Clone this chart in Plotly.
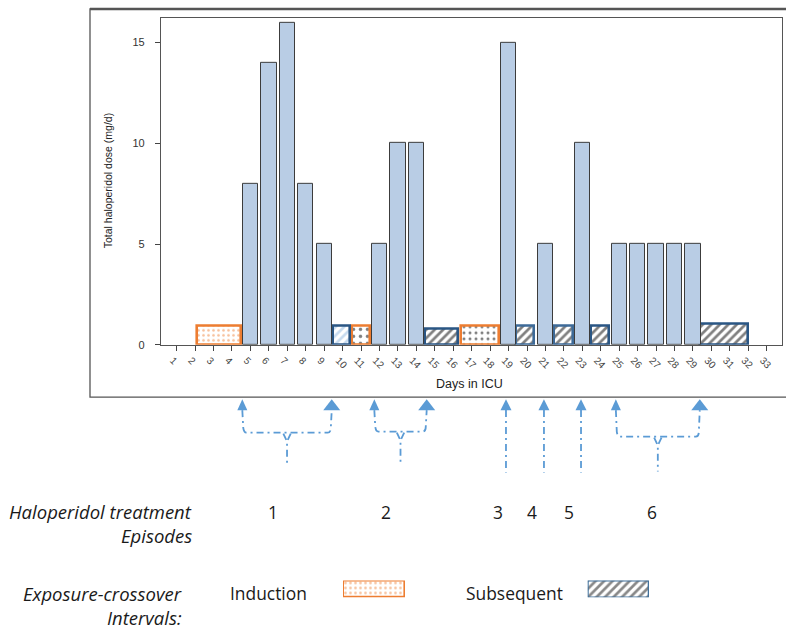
import plotly.graph_objects as go

# ---------------- data ----------------
DAYS = list(range(1, 34))
DOSE_DAYS = [5, 6, 7, 8, 9, 12, 13, 14, 19, 21, 23, 25, 26, 27, 28, 29]
DOSE_MG = [8, 14, 16, 8, 5, 5, 10, 10, 15, 5, 10, 5, 5, 5, 5, 5]

IND_START = [2.1, 10.5, 16.4]
IND_END = [4.5, 11.5, 18.5]
IND_HEIGHT = [0.95, 0.95, 0.92]

SUB_START = [9.47, 14.45, 19.4, 21.45, 23.47, 29.4]
SUB_END = [10.38, 16.28, 20.4, 22.47, 24.47, 32.0]
SUB_HEIGHT = [0.95, 0.8, 0.95, 0.95, 0.95, 1.02]

EPISODE_LABELS = ["1", "2", "3", "4", "5", "6"]
EPISODE_LABEL_DAY = [6.22, 12.35, 18.42, 20.27, 22.28, 26.78]
# arrows: (left day, right day) for braces, single day for simple arrows
BRACE_EPISODES = [(4.56, 9.41), (11.72, 14.56), (24.82, 29.37)]
SINGLE_EPISODES = [18.86, 20.92, 22.93]

Y_TICKS = [0, 5, 10, 15]

# ---------------- styles ----------------
W, H = 786, 635
BAR_FILL = "#b9cde5"
BAR_EDGE = "#3c3c3c"
ORANGE = "#ed7d31"
NAVY = "#2a5684"
ARROW = "#5b9bd5"
FONT_DOC = "Open Sans"
FONT_AX = "Liberation Sans, Arial"


def fx(p):
    return p / W


def fy(p):
    return 1 - p / H


PLOT_L, PLOT_R, PLOT_T, PLOT_B = 161, 782, 18, 348

fig = go.Figure()

# interval boxes
ind_x = [(a + b) / 2 for a, b in zip(IND_START, IND_END)]
ind_w = [b - a for a, b in zip(IND_START, IND_END)]
fig.add_trace(go.Bar(
    x=ind_x, y=IND_HEIGHT, width=ind_w, base=0,
    marker=dict(color="white",
                line=dict(color=ORANGE, width=2.6),
                pattern=dict(shape=".", fgcolor=[ORANGE, "black", "black"],
                             bgcolor="white", size=[5, 7, 6], solidity=[0.22, 0.2, 0.2],
                             fillmode="overlay")),
    showlegend=False, hoverinfo="skip"))

sub_x = [(a + b) / 2 for a, b in zip(SUB_START, SUB_END)]
sub_w = [b - a for a, b in zip(SUB_START, SUB_END)]
fig.add_trace(go.Bar(
    x=sub_x, y=SUB_HEIGHT, width=sub_w, base=0,
    marker=dict(color="white",
                line=dict(color=[NAVY, NAVY, "#3d6a98", "#3d6a98", NAVY, NAVY], width=2.6),
                pattern=dict(shape="/", fgcolor=["#8fb8e0"] + ["#000000"] * 5,
                             bgcolor="white", size=6, solidity=0.45,
                             fillmode="overlay")),
    showlegend=False, hoverinfo="skip"))

# dose bars
fig.add_trace(go.Bar(
    x=DOSE_DAYS, y=DOSE_MG, width=0.83,
    marker=dict(color=BAR_FILL, line=dict(color=BAR_EDGE, width=1)),
    showlegend=False, hoverinfo="skip"))

# legend boxes (small hidden subplots)
fig.add_trace(go.Bar(
    x=[0.5], y=[1], width=[1], base=0, xaxis="x2", yaxis="y2", cliponaxis=False,
    marker=dict(color="white", line=dict(color=ORANGE, width=2.6),
                pattern=dict(shape=".", fgcolor=ORANGE, bgcolor="white", size=5,
                             solidity=0.22, fillmode="overlay")),
    showlegend=False, hoverinfo="skip"))
fig.add_trace(go.Bar(
    x=[0.5], y=[1], width=[1], base=0, xaxis="x3", yaxis="y3", cliponaxis=False,
    marker=dict(color="white", line=dict(color="#41719c", width=2),
                pattern=dict(shape="/", fgcolor="#111111", bgcolor="white", size=6,
                             solidity=0.45, fillmode="overlay")),
    showlegend=False, hoverinfo="skip"))

hidden = dict(visible=False, range=[0, 1], fixedrange=True)

fig.update_layout(
    width=W, height=H,
    margin=dict(l=0, r=0, t=0, b=0),
    paper_bgcolor="white", plot_bgcolor="white",
    barmode="overlay", bargap=0,
    xaxis=dict(domain=[fx(PLOT_L), fx(PLOT_R)], range=[0.15, 33.83],
               tickvals=DAYS, ticktext=[str(d) for d in DAYS], tickangle=45,
               ticks="outside", ticklen=5, tickcolor="#444", tickwidth=1,
               showline=True, mirror=True, linecolor="#555", linewidth=1.2,
               showgrid=False, zeroline=False, ticklabelshift=-4,
               tickfont=dict(family=FONT_AX, size=10, color="#444")),
    yaxis=dict(domain=[fy(PLOT_B), fy(PLOT_T)], range=[0, 16.23],
               tickvals=Y_TICKS, ticks="outside", ticklen=5, tickcolor="#444",
               showline=True, mirror=True, linecolor="#555", linewidth=1.2,
               showgrid=False, zeroline=False, ticklabelstandoff=8,
               tickfont=dict(family=FONT_AX, size=11, color="#333")),
    xaxis2=dict(domain=[fx(343), fx(405)], anchor="y2", **hidden),
    yaxis2=dict(domain=[fy(603), fy(586)], anchor="x2", **hidden),
    xaxis3=dict(domain=[fx(587.7), fx(649)], anchor="y3", **hidden),
    yaxis3=dict(domain=[fy(603), fy(586)], anchor="x3", **hidden),
)

shapes = []
# outer frame
shapes.append(dict(type="rect", xref="paper", yref="paper",
                   x0=fx(90), x1=fx(800), y0=fy(401), y1=fy(9),
                   line=dict(color="#555", width=1.3), layer="below"))
shapes.append(dict(type="line", xref="paper", yref="paper",
                   x0=fx(90), x1=fx(800), y0=fy(9), y1=fy(9),
                   line=dict(color="#555", width=2.5)))

DASH = "7px,4px,2px,4px"
LINE = dict(color=ARROW, width=1.8, dash=DASH)
TIP = 403
BASE_SMALL = 414
H_Y = [436.7, 435.7, 440.7]
STEM_BOTTOM = [468, 468, 476]


def head(day, half_w):
    return dict(type="path", xref="x", yref="paper",
                xsizemode="pixel", ysizemode="pixel",
                xanchor=day, yanchor=fy(TIP),
                path=f"M0,0 L{-half_w},-11 L{half_w},-11 Z",
                fillcolor=ARROW, line=dict(width=0))


for (a, b), hy, sb in zip(BRACE_EPISODES, H_Y, STEM_BOTTOM):
    mid = (a + b) / 2
    r = 0.22
    path = (f"M{a},{fy(BASE_SMALL)} L{a + 0.05},{fy(hy - 5)} "
            f"Q{a + 0.08},{fy(hy)} {a + r},{fy(hy)} "
            f"L{b - r},{fy(hy)} Q{b - 0.05},{fy(hy)} {b - 0.05},{fy(hy - 5)} "
            f"L{b},{fy(BASE_SMALL)}")
    shapes.append(dict(type="path", xref="x", yref="paper", path=path, line=LINE))
    stem = (f"M{mid - 0.2},{fy(hy + 1)} L{mid},{fy(hy + 9)} L{mid},{fy(sb)} "
            f"M{mid + 0.2},{fy(hy + 1)} L{mid},{fy(hy + 9)}")
    shapes.append(dict(type="path", xref="x", yref="paper", path=stem, line=LINE))
    shapes.append(head(a, 5))
    shapes.append(head(b, 8.5))

for d in SINGLE_EPISODES:
    shapes.append(dict(type="line", xref="x", yref="paper", x0=d, x1=d,
                       y0=fy(BASE_SMALL), y1=fy(477), line=LINE))
    shapes.append(head(d, 5.5))

fig.update_layout(shapes=shapes)

ann = []
# axis titles
ann.append(dict(text="Days in ICU", x=fx(469), y=fy(388), xref="paper", yref="paper",
                xanchor="center", yanchor="middle", showarrow=False,
                font=dict(family=FONT_AX, size=12.5, color="#222")))
ann.append(dict(text="Total haloperidol dose (mg/d)", x=fx(108), y=fy(183),
                xref="paper", yref="paper", textangle=-90, showarrow=False,
                xanchor="center", yanchor="middle",
                font=dict(family=FONT_AX, size=10.5, color="#222")))

num_font = dict(family=FONT_DOC, size=17.4, color="#1a1a1a")
label_font = dict(family=FONT_DOC, size=18.5, color="#1a1a1a", style="italic")
for lab, d in zip(EPISODE_LABELS, EPISODE_LABEL_DAY):
    ann.append(dict(text=lab, x=d, y=fy(517), xref="x", yref="paper", showarrow=False,
                    xanchor="center", yanchor="middle", font=num_font))

for txt, xr, yy in [("Haloperidol treatment", 194, 516),
                    ("Episodes", 194, 541),
                    ("Exposure-crossover", 184, 599),
                    ("Intervals:", 184, 623)]:
    ann.append(dict(text=txt, x=fx(xr), y=fy(yy), xref="paper", yref="paper",
                    xanchor="right", yanchor="middle", showarrow=False, font=label_font))

for txt, xc in [("Induction", 268), ("Subsequent", 514.5)]:
    ann.append(dict(text=txt, x=fx(xc), y=fy(599), xref="paper", yref="paper",
                    xanchor="center", yanchor="middle", showarrow=False, font=num_font))

fig.update_layout(annotations=ann)

fig.write_html("out.html", config={"displayModeBar": False},
               post_script="document.body.style.margin='0';document.body.style.overflow='hidden';")
